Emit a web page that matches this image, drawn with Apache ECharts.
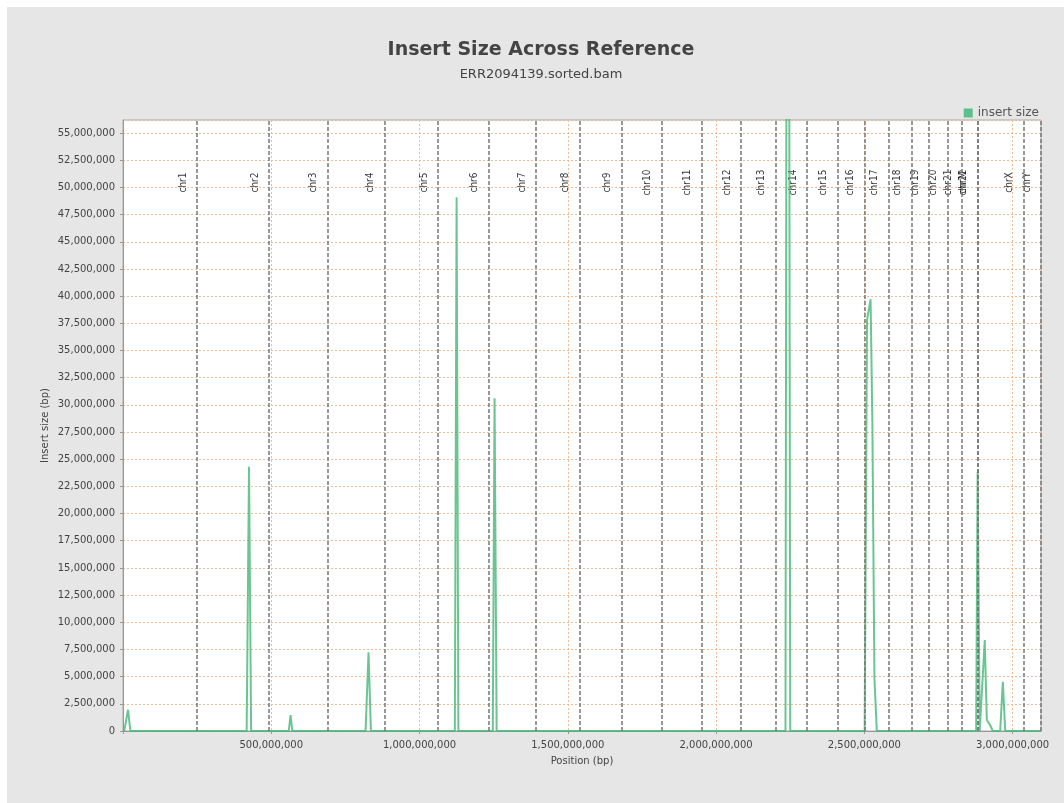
<!DOCTYPE html>
<html>
<head>
<meta charset="utf-8">
<script src="https://cdn.jsdelivr.net/npm/echarts@6/dist/echarts.min.js"></script>
<style>
html,body{margin:0;padding:0;background:#ffffff;}
#chart{position:absolute;left:7px;top:7px;width:1057px;height:796px;background:#e6e6e6;}
</style>
</head>
<body>
<div id="chart"></div>
<script>
// chromosome order as in the bam header, lengths in bp
var chromNames=["chr1","chr2","chr3","chr4","chr5","chr6","chr7","chr8","chr9","chr10","chr11","chr12","chr13","chr14","chr15","chr16","chr17","chr18","chr19","chr20","chr21","chr22","chrM","chrX","chrY"];
var chromLengths=[249250621,243199373,198022430,191154276,180915260,171115067,159138663,146364022,141213431,135534747,135006516,133851895,115169878,107349540,102531392,90354753,81195210,78077248,59128983,63025520,48129895,51304566,16571,155270560,59373566];

// insert size line: position (bp) / value (bp)
var positions=[4000000,8000000,17000000,25000000,
    417000000,425000000,432000000,
    559000000,565000000,571000000,
    818000000,828000000,836000000,
    1119000000,1125000000,1131000000,
    1247000000,1253000000,1260000000,
    2234000000,2242000000,2250000000,
    2501000000,2509000000,2521000000,2527000000,2534000000,2542000000,
    2877000000,2882000000,2889000000,2893000000,2906000000,2913000000,2924000000,2933000000,
    2958000000,2967000000,2975000000,3095000000];
var insertSize=[0,0,1950000,0,
    0,24300000,0,
    0,1470000,0,
    0,7240000,0,
    0,49100000,0,
    0,30600000,0,
    0,150000000,0,
    0,37800000,39700000,28450000,4850000,0,
    0,23850000,0,0,8370000,1010000,550000,0,
    0,4530000,0,0];

var yTicks={min:0,max:56200000,step:2500000};
var xTicks={min:0,max:3095693983,step:500000000};

var mychart=echarts.init(document.getElementById("chart"));

// cumulative end of each chromosome
var bounds=[];
var acc=0;
for(var i=0;i<chromLengths.length;i++){
    acc+=chromLengths[i];
    bounds.push(acc);
}
var labelData=bounds.map(function(b,i){
    return {name:chromNames[i],value:[b,50450000]};
});
var lineData=positions.map(function(p,i){return [p,insertSize[i]];});

var fmt=function(v){return v.toLocaleString('en-US');};
var font='DejaVu Sans';

var option={
    textStyle:{fontFamily:font},
    animation:false,
    title:{
        text:'Insert Size Across Reference',
        subtext:'ERR2094139.sorted.bam',
        left:529,
        top:29,
        textAlign:'center',
        itemGap:8,
        textStyle:{fontFamily:font,fontSize:19,fontWeight:'bold',color:'#444444'},
        subtextStyle:{fontFamily:font,fontSize:13,color:'#444444'}
    },
    legend:{
        data:['insert size'],
        right:20,
        top:95,
        icon:'rect',
        itemWidth:9,
        itemHeight:9,
        itemGap:6,
        textStyle:{fontFamily:font,fontSize:12,color:'#555555'}
    },
    grid:{
        left:116,
        right:23,
        top:113,
        bottom:72,
        show:true,
        backgroundColor:'#ffffff',
        borderColor:'#aaaaaa',
        borderWidth:1
    },
    xAxis:{
        type:'value',
        min:xTicks.min,
        max:xTicks.max,
        interval:xTicks.step,
        offset:3,
        name:'Position (bp)',
        nameLocation:'middle',
        nameGap:22,
        nameTextStyle:{fontFamily:font,fontSize:10,color:'#444444'},
        axisLine:{show:true,lineStyle:{color:'#999999',width:1}},
        axisTick:{show:true,length:3,lineStyle:{color:'#999999'}},
        axisLabel:{
            showMaxLabel:false,
            margin:6,
            fontSize:10,
            color:'#444444',
            formatter:function(v){return v===0?'':fmt(v);}
        },
        splitLine:{show:true,lineStyle:{color:'#f0bb94',type:[2,2],width:1}}
    },
    yAxis:{
        type:'value',
        min:yTicks.min,
        max:yTicks.max,
        interval:yTicks.step,
        offset:3,
        name:'Insert size (bp)',
        nameLocation:'middle',
        nameGap:70,
        nameMoveOverlap:false,
        nameTextStyle:{fontFamily:font,fontSize:10,color:'#444444'},
        axisLine:{show:true,lineStyle:{color:'#999999',width:1}},
        axisTick:{show:true,length:3,lineStyle:{color:'#999999'}},
        axisLabel:{
            showMaxLabel:false,
            margin:5,
            fontSize:10,
            color:'#444444',
            formatter:fmt
        },
        splitLine:{show:true,lineStyle:{color:'#f0bb94',type:[2,2],width:1}}
    },
    series:[
        {
            // chromosome boundaries and names
            name:'chromosomes',
            type:'scatter',
            silent:true,
            symbolSize:1,
            itemStyle:{color:'rgba(0,0,0,0)'},
            data:labelData,
            label:{
                show:true,
                position:'inside',
                rotate:90,
                offset:[0,-14],
                formatter:function(p){return p.name;},
                fontFamily:'DejaVu Sans Condensed',
                fontSize:10,
                color:'#000000'
            },
            markLine:{
                silent:true,
                symbol:'none',
                label:{show:false},
                lineStyle:{color:'#777777',type:[4,2],width:1.5},
                data:bounds.map(function(b){return {xAxis:b};})
            },
            z:2
        },
        {
            name:'insert size',
            type:'line',
            data:lineData,
            showSymbol:false,
            clip:true,
            color:'#5cc08a',
            lineStyle:{color:'rgba(70,182,120,0.8)',width:2},
            z:3
        }
    ]
};
mychart.setOption(option);
</script>
</body>
</html>
